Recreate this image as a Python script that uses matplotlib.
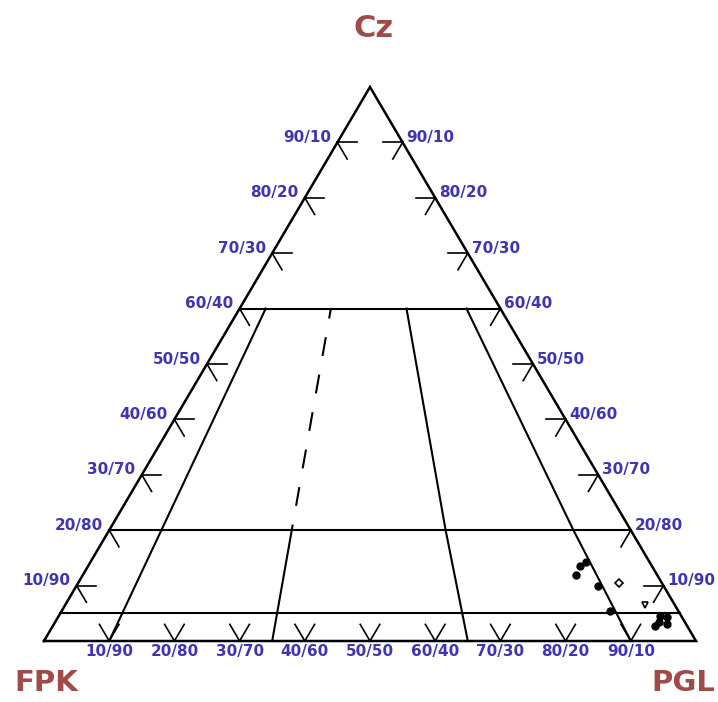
import matplotlib
matplotlib.use("Agg")
import matplotlib.pyplot as plt
import numpy as np

plt.rcParams["lines.scale_dashes"] = False
plt.rcParams["font.family"] = ["DejaVu Sans"]

# composition: Cz, FPK, PGL (percent)
edge_labels = ["10/90", "20/80", "30/70", "40/60", "50/50", "60/40", "70/30", "80/20", "90/10"]
tick_fracs = [0.1, 0.2, 0.3, 0.4, 0.5, 0.6, 0.7, 0.8, 0.9]
cz_lines = [0.60, 0.20, 0.05]

# ratio lines: PGL/(FPK+PGL) at Cz = 0.6, 0.2, 0.0
ratio_left = [0.10, 0.10, 0.10]
ratio_mid1 = [0.35, 0.35, 0.35]
ratio_mid2 = [0.64, 0.645, 0.65]
ratio_right = [0.87, 0.89, 0.90]
ratio_cz = [0.60, 0.20, 0.0]

filled_cz = [12.0, 13.5, 14.3, 10.0, 5.5, 3.5, 4.5, 4.3, 2.7, 3.0]
filled_fpk = [12.4, 11.0, 9.7, 10.0, 10.5, 4.0, 3.3, 2.3, 4.9, 3.0]
filled_pgl = [75.6, 75.5, 76.0, 80.0, 84.0, 92.5, 92.2, 93.4, 92.4, 94.0]

diamond_cz, diamond_fpk, diamond_pgl = [10.5], [6.5], [83.0]
tri_cz, tri_fpk, tri_pgl = [6.5], [4.5], [89.0]

BLUE = "#3f35b3"
RED = "#a04a4a"


def tern(cz, fpk, pgl):
    cz, fpk, pgl = np.asarray(cz, float), np.asarray(fpk, float), np.asarray(pgl, float)
    s = cz + fpk + pgl
    cz, pgl = cz / s, pgl / s
    return pgl + 0.5 * cz, cz


def ratio_pt(cz, r):
    return tern(cz, (1 - cz) * (1 - r), (1 - cz) * r)


fig = plt.figure(figsize=(7.18, 7.02), dpi=100)
ax = fig.add_axes([0, 0, 1, 1])
ax.set_xlim(-44 / 652, 674 / 652)
ax.set_ylim(-61 / 554, 641 / 554)
ax.axis("off")

# triangle
x, y = tern([0, 0, 1, 0], [1, 0, 0, 1], [0, 1, 0, 0])
ax.plot(x, y, color="black", lw=1.8, solid_joinstyle="miter")

# horizontal lines
for c in cz_lines:
    x, y = tern([c, c], [1 - c, 0], [0, 1 - c])
    ax.plot(x, y, color="black", lw=1.5)

# ratio lines
for rl in [ratio_left, ratio_mid2, ratio_right]:
    x, y = ratio_pt(np.array(ratio_cz), np.array(rl))
    ax.plot(x, y, color="black", lw=1.5)
x, y = ratio_pt(np.array(ratio_cz[:2]), np.array(ratio_mid1[:2]))
ax.plot(x, y, color="black", lw=1.5, linestyle=(6.5, (13.7, 13.7)))
x, y = ratio_pt(np.array(ratio_cz[1:]), np.array(ratio_mid1[1:]))
ax.plot(x, y, color="black", lw=1.5)

d = 0.03
for f, lab in zip(tick_fracs, edge_labels):
    # left edge (Cz = f, PGL = 0)
    x, y = tern([f, f], [1 - f, 1 - f - d], [0, d])
    ax.plot(x, y, color="black", lw=1.2)
    x, y = tern([f, f - d], [1 - f, 1 - f], [0, d])
    ax.plot(x, y, color="black", lw=1.2)
    px, py = tern(f, 1 - f, 0)
    ax.text(px - 0.010, py + 0.009, lab, color=BLUE, fontsize=11, fontweight="bold",
            ha="right", va="center")
    # right edge (Cz = f, FPK = 0)
    x, y = tern([f, f], [0, d], [1 - f, 1 - f - d])
    ax.plot(x, y, color="black", lw=1.2)
    x, y = tern([f, f - d], [0, d], [1 - f, 1 - f])
    ax.plot(x, y, color="black", lw=1.2)
    px, py = tern(f, 0, 1 - f)
    ax.text(px + 0.006, py + 0.009, lab, color=BLUE, fontsize=11, fontweight="bold",
            ha="left", va="center")

for f, lab in zip(tick_fracs, edge_labels):
    # bottom edge V ticks
    x, y = tern([0, d], [1 - f, 1 - f], [f, f - d])
    ax.plot(x, y, color="black", lw=1.2)
    x, y = tern([0, d], [1 - f, 1 - f - d], [f, f])
    ax.plot(x, y, color="black", lw=1.2)
    px, py = tern(0, 1 - f, f)
    ax.text(px, py - 0.019, lab, color=BLUE, fontsize=11, fontweight="bold",
            ha="center", va="center")

# data
x, y = tern(filled_cz, filled_fpk, filled_pgl)
ax.plot(x, y, "o", color="black", ms=5, ls="none")
x, y = tern(diamond_cz, diamond_fpk, diamond_pgl)
ax.plot(x, y, "D", mfc="white", mec="black", ms=4, mew=1.2, ls="none")
x, y = tern(tri_cz, tri_fpk, tri_pgl)
ax.plot(x, y, "v", mfc="white", mec="black", ms=5, mew=1.2, ls="none")

# vertex labels
ax.text(0.505, 1.105, "Cz", color=RED, fontsize=22, fontweight="bold", ha="center", va="center")
ax.text(-0.045, -0.075, "FPK", color=RED, fontsize=21, fontweight="bold", ha="left", va="center")
ax.text(1.030, -0.075, "PGL", color=RED, fontsize=21, fontweight="bold", ha="right", va="center")

fig.savefig("out.png", dpi=100)
